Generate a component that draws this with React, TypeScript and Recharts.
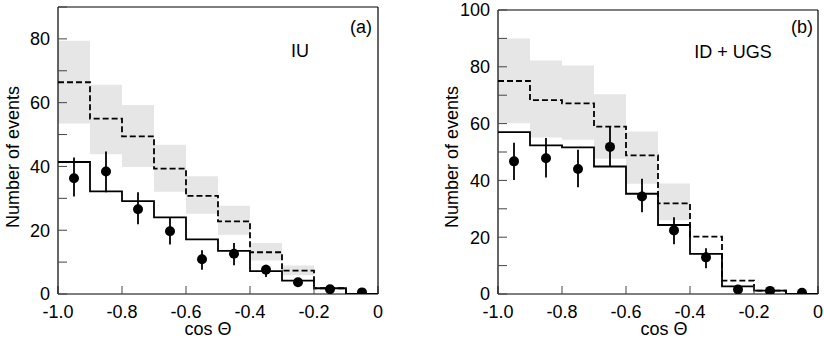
import React from "react";
import {
    ComposedChart,
    Line,
    Area,
    Scatter,
    ErrorBar,
    XAxis,
    YAxis
} from "recharts";

// bin edges in cos(theta), ten bins of 0.1
const binEdges = [-1.0, -0.9, -0.8, -0.7, -0.6, -0.5, -0.4, -0.3, -0.2, -0.1, 0];
const binCenters = [-0.95, -0.85, -0.75, -0.65, -0.55, -0.45, -0.35, -0.25, -0.15, -0.05];

// panel (a): IU
const solidA = [41.4, 32.2, 29.1, 24.0, 17.1, 13.5, 7.2, 4.2, 1.8, 0];
const dashedA = [66.4, 55.0, 49.4, 39.3, 30.8, 22.8, 13.1, 7.3, 1.8, 0];
const bandLowA = [53.5, 43.8, 39.8, 32.1, 25.2, 18.6, 10.5, 5.9, null, null];
const bandHighA = [79.4, 65.6, 59.3, 46.8, 36.9, 27.7, 16.0, 8.9, null, null];
const pointsA = [36.3, 38.4, 26.6, 19.7, 10.9, 12.6, 7.6, 3.7, 1.5, 0.5];
const errLowA = [30.6, 31.9, 21.9, 15.5, 7.6, 9.0, 5.3, 2.9, 1.0, 0.3];
const errHighA = [42.8, 44.7, 31.9, 23.8, 13.7, 16.0, 9.2, 4.5, 2.0, 0.7];

// panel (b): ID + UGS
const solidB = [57.0, 52.3, 51.6, 44.9, 35.3, 24.3, 14.1, 2.7, 1.2, 0];
const dashedB = [75.0, 68.3, 67.1, 58.9, 48.8, 31.9, 20.2, 4.7, 1.2, 0];
const bandLowB = [60.1, 55.1, 54.3, 47.6, 38.8, 26.0, null, null, null, null];
const bandHighB = [90.0, 82.2, 80.5, 70.3, 57.2, 38.9, null, null, null, null];
const pointsB = [46.7, 47.8, 44.0, 51.8, 34.3, 22.4, 12.9, 1.6, 1.1, 0.4];
const errLowB = [40.1, 41.0, 37.6, 44.9, 28.8, 17.5, 9.1, 1.2, 0.7, 0.2];
const errHighB = [53.3, 54.9, 50.8, 59.0, 40.6, 27.0, 16.1, 2.0, 1.5, 0.6];

const xTicks = [-1.0, -0.8, -0.6, -0.4, -0.2, 0];
const yTicksA = [0, 10, 20, 30, 40, 50, 60, 70, 80, 90];
const yTicksB = [0, 10, 20, 30, 40, 50, 60, 70, 80, 90, 100];

const FONT = "'Liberation Sans', Arial, Helvetica, sans-serif";

// two rows per bin (left and right edge) so lines and band become steps
const stepRows = (solid, dashed, low, high) => {
    const rows = [];
    solid.forEach((v, i) => {
        [binEdges[i], binEdges[i + 1]].forEach((x) => {
            rows.push({
                x,
                solid: v,
                dashed: dashed[i],
                band: low[i] == null ? null : [low[i], high[i]]
            });
        });
    });
    return rows;
};

const pointRows = (pts, lo, hi) =>
    pts.map((y, i) => ({ x: binCenters[i], y, err: [y - lo[i], hi[i] - y] }));

const fmtX = (v) => (v === 0 ? "0" : v.toFixed(1));
const fmtY = (v) => (v % 20 === 0 ? String(v) : "");

const Dot = (props) => <circle cx={props.cx} cy={props.cy} r={5} fill="#000" />;

const Panel = ({ rows, points, yMax, yTicks, leftWidth, marginTop, marginRight }) => (
    <ComposedChart
        width={412}
        height={343}
        data={rows}
        margin={{ top: marginTop, right: marginRight, bottom: 0, left: 0 }}
    >
        <XAxis
            xAxisId="b"
            dataKey="x"
            type="number"
            domain={[-1, 0]}
            allowDataOverflow
            ticks={xTicks}
            interval={0}
            tickFormatter={fmtX}
            height={49}
            tickSize={-8}
            tickMargin={19}
            axisLine={{ stroke: "#000", strokeWidth: 1.2 }}
            tickLine={{ stroke: "#444" }}
            tick={{ fill: "#000", fontSize: 18, fontFamily: FONT }}
        />
        <XAxis
            xAxisId="t"
            orientation="top"
            dataKey="x"
            type="number"
            domain={[-1, 0]}
            allowDataOverflow
            ticks={xTicks}
            interval={0}
            height={1}
            tickSize={-8}
            axisLine={{ stroke: "#000", strokeWidth: 1.2 }}
            tickLine={{ stroke: "#444" }}
            tick={false}
        />
        <YAxis
            yAxisId="l"
            type="number"
            domain={[0, yMax]}
            allowDataOverflow
            ticks={yTicks}
            interval={0}
            tickFormatter={fmtY}
            width={leftWidth}
            tickSize={-9}
            tickMargin={17}
            axisLine={{ stroke: "#000", strokeWidth: 1.2 }}
            tickLine={{ stroke: "#444" }}
            tick={{ fill: "#000", fontSize: 18, fontFamily: FONT }}
        />
        <YAxis
            yAxisId="r"
            orientation="right"
            type="number"
            domain={[0, yMax]}
            allowDataOverflow
            ticks={yTicks}
            interval={0}
            width={1}
            tickSize={-9}
            axisLine={{ stroke: "#000", strokeWidth: 1.2 }}
            tickLine={{ stroke: "#444" }}
            tick={false}
        />
        <Area
            xAxisId="b"
            yAxisId="l"
            type="linear"
            dataKey="band"
            stroke="none"
            fill="#e6e6e6"
            fillOpacity={1}
            isAnimationActive={false}
        />
        <Line
            xAxisId="b"
            yAxisId="l"
            type="linear"
            dataKey="dashed"
            stroke="#000"
            strokeWidth={1.8}
            strokeDasharray="6 3"
            dot={false}
            isAnimationActive={false}
        />
        <Line
            xAxisId="b"
            yAxisId="l"
            type="linear"
            dataKey="solid"
            stroke="#000"
            strokeWidth={1.8}
            dot={false}
            isAnimationActive={false}
        />
        <Scatter
            xAxisId="b"
            yAxisId="l"
            data={points}
            dataKey="y"
            shape={Dot}
            isAnimationActive={false}
        >
            <ErrorBar dataKey="err" direction="y" width={0} stroke="#000" strokeWidth={1.8} />
        </Scatter>
    </ComposedChart>
);

const txt = (left, top, text, extra = {}) => (
    <div
        style={{
            position: "absolute",
            left,
            top,
            transform: "translate(-50%, -50%)",
            fontSize: 18,
            lineHeight: 1,
            whiteSpace: "nowrap",
            color: "#000",
            ...extra
        }}
    >
        {text}
    </div>
);

const App = () => (
    <div
        style={{
            position: "absolute",
            left: 0,
            top: 0,
            width: 824,
            height: 343,
            background: "#fff",
            fontFamily: FONT
        }}
    >
        <div style={{ position: "absolute", left: 0, top: 0 }}>
            <Panel
                rows={stepRows(solidA, dashedA, bandLowA, bandHighA)}
                points={pointRows(pointsA, errLowA, errHighA)}
                yMax={90}
                yTicks={yTicksA}
                leftWidth={58}
                marginTop={6}
                marginRight={33}
            />
        </div>
        <div style={{ position: "absolute", left: 412, top: 0 }}>
            <Panel
                rows={stepRows(solidB, dashedB, bandLowB, bandHighB)}
                points={pointRows(pointsB, errLowB, errHighB)}
                yMax={100}
                yTicks={yTicksB}
                leftWidth={86}
                marginTop={9}
                marginRight={5}
            />
        </div>
        {txt(13, 157, "Number of events", { transform: "translate(-50%, -50%) rotate(-90deg)" })}
        {txt(452, 157, "Number of events", { transform: "translate(-50%, -50%) rotate(-90deg)" })}
        {txt(208, 329, "cos Θ")}
        {txt(664, 329, "cos Θ")}
        {txt(361, 27, "(a)")}
        {txt(300, 51, "IU")}
        {txt(802, 27, "(b)")}
        {txt(733, 52, "ID + UGS")}
    </div>
);

export default App;
